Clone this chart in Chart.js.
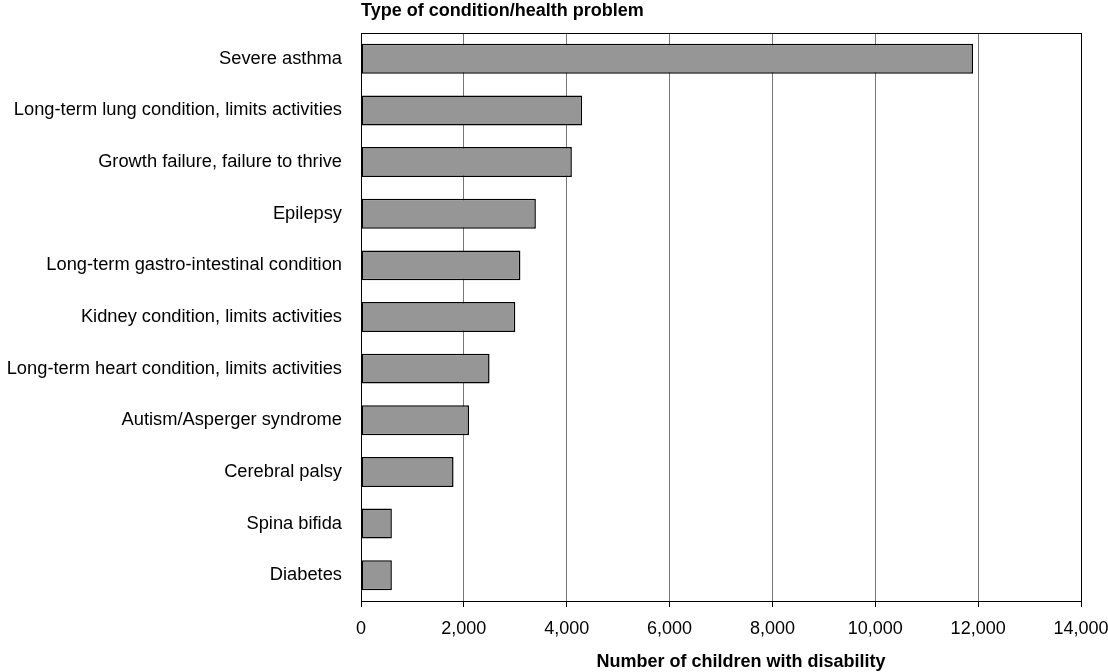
<!DOCTYPE html>
<html>
<head>
<meta charset="utf-8">
<script src="https://cdn.jsdelivr.net/npm/chart.js@4.4.0/dist/chart.umd.min.js"></script>
<style>
html,body{margin:0;padding:0;background:#fff}
#wrap{width:1108px;height:672px;position:relative}
</style>
</head>
<body>
<div id="wrap"><canvas id="c" width="1108" height="672"></canvas></div>
<script>
// data
const conditions=['Severe asthma','Long-term lung condition, limits activities','Growth failure, failure to thrive','Epilepsy','Long-term gastro-intestinal condition','Kidney condition, limits activities','Long-term heart condition, limits activities','Autism/Asperger syndrome','Cerebral palsy','Spina bifida','Diabetes'];
const children=[11900,4300,4100,3400,3100,3000,2500,2100,1800,600,600];
const xTicks=[0,2000,4000,6000,8000,10000,12000,14000];
const yTitle='Type of condition/health problem';
const xTitle='Number of children with disability';

const FONT='"Liberation Sans", Arial, sans-serif';

// frame + titles drawn on top of the chart area
const frame={
  id:'frame',
  afterDraw(chart){
    const {ctx,chartArea:a}=chart;
    ctx.save();
    ctx.strokeStyle='#000';ctx.lineWidth=1;
    ctx.strokeRect(Math.round(a.left)+0.5,Math.round(a.top)+0.5,Math.round(a.right-a.left),Math.round(a.bottom-a.top));
    ctx.fillStyle='#000';
    ctx.font='bold 18px '+FONT;
    ctx.textBaseline='alphabetic';
    ctx.textAlign='left';
    ctx.fillText(yTitle,a.left,16);
    ctx.textAlign='center';
    ctx.fillText(xTitle,741,667);
    ctx.restore();
  }
};

new Chart(document.getElementById('c'),{
  type:'bar',
  data:{
    labels:conditions,
    datasets:[{
      data:children,
      backgroundColor:'#969696',
      borderColor:'#000',
      borderWidth:1.5,
      borderSkipped:false,
      barPercentage:0.58,
      categoryPercentage:1
    }]
  },
  options:{
    indexAxis:'y',
    responsive:false,
    animation:false,
    layout:{padding:{top:33,right:27,bottom:0,left:0}},
    plugins:{legend:{display:false},tooltip:{enabled:false},title:{display:false}},
    scales:{
      x:{
        min:0,max:14000,
        afterBuildTicks(s){s.ticks=xTicks.map(v=>({value:v}));},
        afterFit(s){s.height=71;s.paddingLeft=0;s.paddingRight=0;},
        grid:{color:c=>c.tick&&c.tick.value===14000?'#000':'#777',lineWidth:1,drawTicks:true,tickLength:6,tickColor:'#000'},
        border:{color:'#000'},
        ticks:{color:'#000',font:{family:FONT,size:18},padding:11,maxRotation:0,
          callback:v=>v.toLocaleString('en-US')}
      },
      y:{
        afterFit(s){s.width=361;s.paddingTop=0;s.paddingBottom=0;},
        grid:{display:false,drawTicks:false},
        border:{color:'#000'},
        ticks:{color:'#000',font:{family:FONT,size:18.3},padding:19,autoSkip:false}
      }
    }
  },
  plugins:[frame]
});
</script>
</body>
</html>
